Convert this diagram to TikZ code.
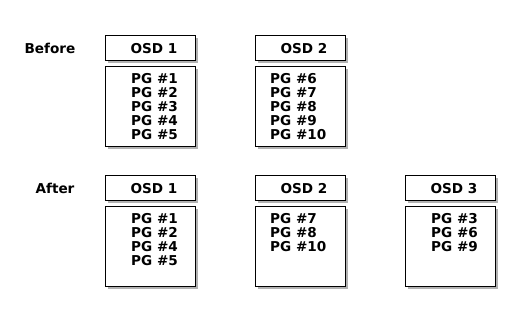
\documentclass[tikz,border=0pt]{standalone}
\usepackage{fontspec}
\setmainfont{DejaVu Sans}
\usetikzlibrary{positioning, shadows}
\colorlet{boxline}{black}
\colorlet{boxfill}{white}
\colorlet{boxshadow}{black!60}

\begin{document}
\begin{tikzpicture}[
    x=1pt, y=-1pt,
    font=\bfseries\fontsize{13.6}{14}\selectfont,
    stage/.style={inner sep=0pt},
    osdhead/.style={draw=boxline, fill=boxfill, line width=0.8pt,
                    minimum width=90pt, minimum height=25pt, inner sep=0pt,
                    drop shadow={shadow xshift=3pt, shadow yshift=-3pt,
                                 fill=boxshadow, opacity=0.5}},
    pgbody/.style={osdhead, minimum height=80pt},
    osdtitle/.style={inner sep=0pt},
    pglist/.style={align=left, anchor=north west, inner sep=0pt},
]

\useasboundingbox (0,0) rectangle (520,322);

% ── OSD unit macro: #1 name, #2 x, #3 y, #4 title, #5 list x offset, #6 PGs ──
\newcommand{\osdunit}[6]{
    \node[osdhead] (#1h) at (#2+45, #3+12.5) {};
    \node[osdtitle] (#1t) at ([xshift=4pt, yshift=-1.5pt]#1h.center) {#4};
    \node[pgbody] (#1b) at (#2+45, #3+71) {};
    \node[pglist] (#1p) at (#2+#5, #3+38.5) {#6};
}

% ── Before ──
\node[stage] (before) at (50, 48) {Before};

\osdunit{bone}{105}{35}{OSD 1}{26}{PG \#1\\PG \#2\\PG \#3\\PG \#4\\PG \#5}
\osdunit{btwo}{255}{35}{OSD 2}{15}{PG \#6\\PG \#7\\PG \#8\\PG \#9\\PG \#10}

% ── After ──
\node[stage] (after) at (55, 188) {After};

\osdunit{aone}{105}{175}{OSD 1}{26}{PG \#1\\PG \#2\\PG \#4\\PG \#5}
\osdunit{atwo}{255}{175}{OSD 2}{15}{PG \#7\\PG \#8\\PG \#10}
\osdunit{athree}{405}{175}{OSD 3}{26}{PG \#3\\PG \#6\\PG \#9}

\end{tikzpicture}
\end{document}
